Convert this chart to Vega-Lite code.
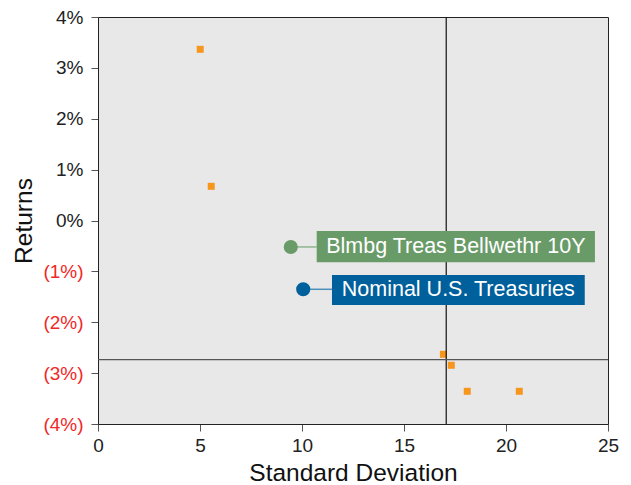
{
  "$schema": "https://vega.github.io/schema/vega-lite/v6.json",
  "width": 510,
  "height": 407,
  "autosize": {"type": "none"},
  "padding": {"left": 98, "top": 17, "right": 23, "bottom": 61},
  "background": "white",
  "config": {
    "font": "Liberation Sans",
    "view": {"fill": "#e8e8e8", "stroke": "#222", "strokeWidth": 1},
    "axis": {"grid": false, "domainColor": "#222", "tickColor": "#555", "labelFont": "Liberation Sans", "titleFont": "Liberation Sans", "labelFontSize": 19, "titleFontSize": 24.5, "titleFontWeight": "normal", "labelColor": "#222", "titleColor": "#111", "tickSize": 7, "labelFlush": false, "labelOverlap": false}
  },
  "datasets": {
    "pts": [
      {"sd": 5.01, "ret": 0.03365},
      {"sd": 5.55, "ret": 0.00672},
      {"sd": 16.93, "ret": -0.0263},
      {"sd": 17.32, "ret": -0.02846},
      {"sd": 18.10, "ret": -0.03357},
      {"sd": 20.65, "ret": -0.03357}
    ],
    "labels": [
      {"name": "Blmbg Treas Bellwethr 10Y", "cx": 9.45, "cy": -0.0052, "bx1": 10.72, "bx2": 24.36, "by1": -0.00206, "by2": -0.0082, "tx": 17.54, "ty": -0.00515, "color": "#699b68", "lcolor": "#8fb58e"},
      {"name": "Nominal U.S. Treasuries", "cx": 10.06, "cy": -0.01352, "bx1": 11.47, "bx2": 23.86, "by1": -0.0107, "by2": -0.0166, "tx": 17.66, "ty": -0.01366, "color": "#00609c", "lcolor": "#4d8fba"}
    ],
    "vline": [{"v": 17.07}],
    "hline": [{"v": -0.02736}]
  },
  "layer": [
    {
      "data": {"name": "pts"},
      "mark": {"type": "square", "size": 49, "opacity": 1, "color": "#f7961d", "filled": true},
      "encoding": {
        "x": {"field": "sd", "type": "quantitative", "scale": {"domain": [0, 25], "nice": false, "zero": false}, "axis": {"title": "Standard Deviation", "values": [0, 5, 10, 15, 20, 25], "labelPadding": 5, "titlePadding": 6}},
        "y": {"field": "ret", "type": "quantitative", "scale": {"domain": [-0.04, 0.04], "nice": false, "zero": false}, "axis": {"title": "Returns", "values": [-0.04, -0.03, -0.02, -0.01, 0, 0.01, 0.02, 0.03, 0.04], "labelExpr": "datum.value < -0.0001 ? '(' + format(-datum.value, '.0%') + ')' : format(datum.value, '.0%')", "labelColor": {"condition": {"test": "datum.value < -0.0001", "value": "#f02828"}, "value": "#222"}, "labelPadding": 8, "titlePadding": 6}}
      }
    },
    {
      "data": {"name": "vline"},
      "mark": {"type": "rule", "color": "#111", "strokeWidth": 1.2},
      "encoding": {"x": {"field": "v", "type": "quantitative"}}
    },
    {
      "data": {"name": "hline"},
      "mark": {"type": "rule", "color": "#555", "strokeWidth": 1.3},
      "encoding": {"y": {"field": "v", "type": "quantitative"}}
    },
    {
      "data": {"name": "labels"},
      "mark": {"type": "rule", "strokeWidth": 1.5},
      "encoding": {
        "x": {"field": "cx", "type": "quantitative"},
        "x2": {"field": "bx1"},
        "y": {"field": "cy", "type": "quantitative"},
        "color": {"field": "lcolor", "type": "nominal", "scale": null}
      }
    },
    {
      "data": {"name": "labels"},
      "mark": {"type": "circle", "size": 200, "opacity": 1},
      "encoding": {
        "x": {"field": "cx", "type": "quantitative"},
        "y": {"field": "cy", "type": "quantitative"},
        "color": {"field": "color", "type": "nominal", "scale": null}
      }
    },
    {
      "data": {"name": "labels"},
      "mark": {"type": "rect"},
      "encoding": {
        "x": {"field": "bx1", "type": "quantitative"},
        "x2": {"field": "bx2"},
        "y": {"field": "by1", "type": "quantitative"},
        "y2": {"field": "by2"},
        "color": {"field": "color", "type": "nominal", "scale": null}
      }
    },
    {
      "data": {"name": "labels"},
      "mark": {"type": "text", "color": "white", "fontSize": 21.5, "align": "center", "baseline": "middle", "font": "Liberation Sans"},
      "encoding": {
        "x": {"field": "tx", "type": "quantitative"},
        "y": {"field": "ty", "type": "quantitative"},
        "text": {"field": "name"}
      }
    }
  ]
}
